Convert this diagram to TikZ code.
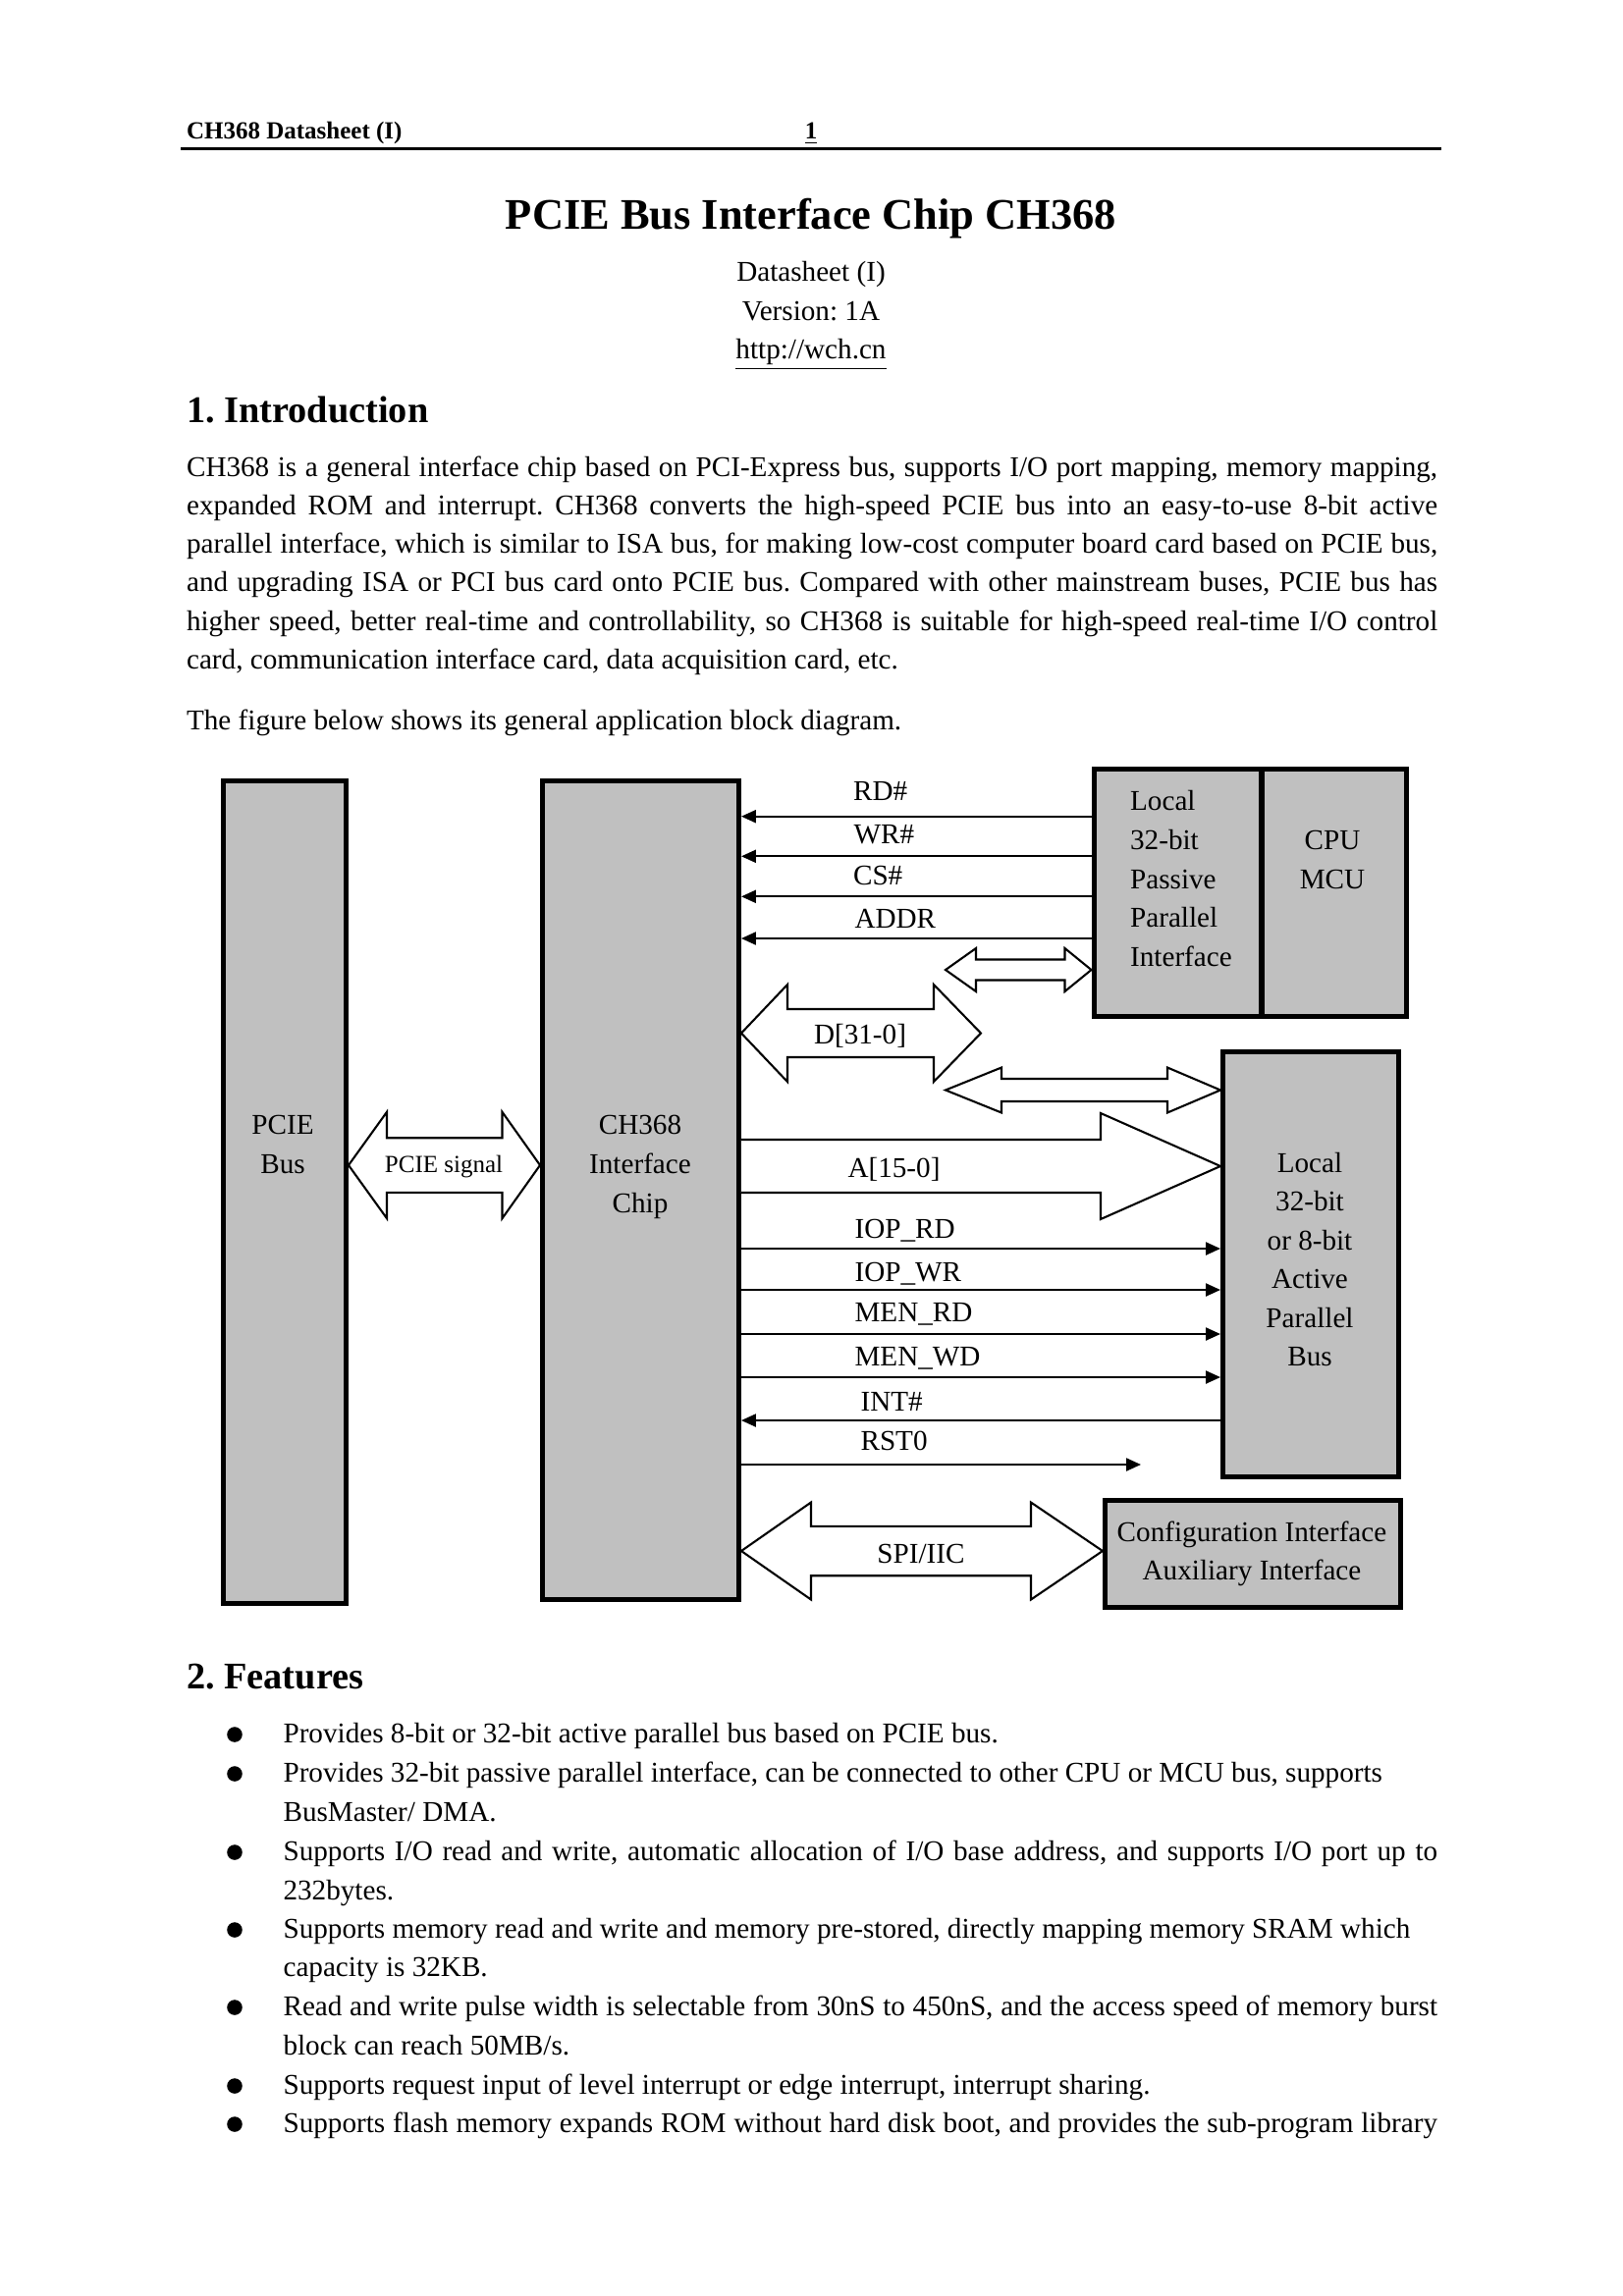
\documentclass[tikz,border=0pt]{standalone}
\usepackage{fontspec}
\setmainfont{Liberation Serif}
\usetikzlibrary{arrows.meta,calc}
\definecolor{boxgray}{RGB}{192,192,192}
\frenchspacing
% box from outer edges x1,y1,x2,y2 (pixel units)
\newcommand{\boxnode}[5]{\node[box, minimum width={(#4-#2-5.3)*0.36pt}, minimum height={(#5-#3-5.3)*0.36pt}] (#1) at ({(#2+#4)/2},{(#3+#5)/2}) {};}
% double block arrow: left tip, right tip, left head length, right head length, half shaft, half head
\newcommand{\dblarrow}[6]{\draw[blockarrow] #1 -- ++(#3,-#6) -- ++(0,#6-#5) -- ($#2+(-#4,-#5)$) -- ++(0,#5-#6) -- #2 -- ++(-#4,#6) -- ++(0,#5-#6) -- ($#1+(#3,#5)$) -- ++(0,#6-#5) -- cycle;}
\tikzset{
  box/.style={draw=black, line width=1.9pt, fill=boxgray, inner sep=0pt},
  lbl/.style={font=\fontsize{10.5}{12}\selectfont\frenchspacing, inner sep=0pt, anchor=base west},
  clbl/.style={lbl, anchor=base},
  body/.style={font=\fontsize{10.5}{12}\selectfont\frenchspacing, inner sep=0pt, anchor=base west},
  cbody/.style={body, anchor=base},
  hdr/.style={font=\fontsize{9}{11}\selectfont\bfseries, inner sep=0pt, anchor=base west},
  sect/.style={font=\fontsize{13.8}{16}\selectfont\bfseries, inner sep=0pt, anchor=base west},
  sig/.style={line width=0.75pt, -{Triangle[length=5.4pt,width=4.7pt]}},
  blockarrow/.style={draw=black, line width=0.75pt, fill=white, line join=miter},
  bul/.style={circle, fill=black, inner sep=0pt, minimum size=5.6pt},
}
\begin{document}
\begin{tikzpicture}[x=0.36pt,y=-0.36pt]
\useasboundingbox[fill=white] (0,0) rectangle (1653,2339);

% ---------- header ----------
\node[hdr] (hleft) at (189.5,141.7) {CH368 Datasheet (I)};
\node[hdr, anchor=base] (hpage) at (826,141.7) {\underline{1}};
\coordinate (ruleL) at (184,151.5);
\coordinate (ruleR) at (1468,151.5);
\draw[line width=1.1pt] (ruleL) -- (ruleR);

% ---------- title ----------
\node[font=\fontsize{16}{19}\selectfont\bfseries, inner sep=0pt, anchor=base] (title) at (826,233) {PCIE Bus Interface Chip CH368};
\node[cbody] (sub1) at (826,286.7) {Datasheet (I)};
\node[cbody] (sub2) at (826,326.7) {Version: 1A};
\node[cbody] (sub3) at (826,365) {\underline{http://wch.cn}};

% ---------- introduction ----------
\node[sect] (sec1) at (189.5,430) {1. Introduction};
\node[body] (i1) at (189.5,485) {\makebox[458.7pt][s]{CH368 is a general interface chip based on PCI-Express bus, supports I/O port mapping, memory mapping,}};
\node[body] (i2) at (189.5,524.3) {\makebox[458.7pt][s]{expanded ROM and interrupt. CH368 converts the high-speed PCIE bus into an easy-to-use 8-bit active}};
\node[body] (i3) at (189.5,563.6) {\makebox[458.7pt][s]{parallel interface, which is similar to ISA bus, for making low-cost computer board card based on PCIE bus,}};
\node[body] (i4) at (189.5,602.9) {\makebox[458.7pt][s]{and upgrading ISA or PCI bus card onto PCIE bus. Compared with other mainstream buses, PCIE bus has}};
\node[body] (i5) at (189.5,642.2) {\makebox[458.7pt][s]{higher speed, better real-time and controllability, so CH368 is suitable for high-speed real-time I/O control}};
\node[body] (i6) at (189.5,681.5) {card, communication interface card, data acquisition card, etc.};
\node[body] (i7) at (189.5,743) {The figure below shows its general application block diagram.};

% ---------- diagram boxes ----------
\boxnode{pcie}{224.5}{793}{355}{1636}
\boxnode{ch}{550}{793}{755}{1632}
\boxnode{pp}{1111.5}{781}{1287.65}{1038}
\boxnode{cpu}{1282.35}{781}{1435}{1038}
\boxnode{ab}{1243}{1069}{1427}{1507}
\boxnode{cfg}{1123}{1526}{1429}{1640}

% box texts
\node[clbl] (tp1) at (288,1155.5) {PCIE};
\node[clbl] (tp2) at (288,1195.5) {Bus};
\node[clbl] (tc1) at (652,1155.5) {CH368};
\node[clbl] (tc2) at (652,1195.5) {Interface};
\node[clbl] (tc3) at (652,1235) {Chip};
\node[lbl] (tq1) at (1150.6,825) {Local};
\node[lbl] (tq2) at (1150.6,865) {32-bit};
\node[lbl] (tq3) at (1150.6,905) {Passive};
\node[lbl] (tq4) at (1150.6,944.5) {Parallel};
\node[lbl] (tq5) at (1150.6,984) {Interface};
\node[clbl] (tu1) at (1357,865) {CPU};
\node[clbl] (tu2) at (1357,905) {MCU};
\node[clbl] (ta1) at (1334,1194) {Local};
\node[clbl] (ta2) at (1334,1233.5) {32-bit};
\node[clbl] (ta3) at (1334,1273) {or 8-bit};
\node[clbl] (ta4) at (1334,1312.5) {Active};
\node[clbl] (ta5) at (1334,1352) {Parallel};
\node[clbl] (ta6) at (1334,1391.5) {Bus};
\node[clbl] (tf1) at (1275,1570) {Configuration Interface};
\node[clbl] (tf2) at (1275,1609) {Auxiliary Interface};

% ---------- signals from passive interface ----------
\draw[sig] (pp.west |- 0,831.7) -- (ch.east |- 0,831.7);
\draw[sig] (pp.west |- 0,872.3) -- (ch.east |- 0,872.3);
\draw[sig] (pp.west |- 0,913.3) -- (ch.east |- 0,913.3);
\draw[sig] (pp.west |- 0,956) -- (ch.east |- 0,956);
\node[lbl] (lrd) at (868.5,815) {RD\#};
\node[lbl] (lwr) at (869,859) {WR\#};
\node[lbl] (lcs) at (868.5,901.7) {CS\#};
\node[lbl] (laddr) at (870,945) {ADDR};

% ---------- block arrows ----------
\coordinate (pfree) at (963,988);
\coordinate (dfree) at (999,1052.5);
\coordinate (afree) at (963,1110.5);
\dblarrow{(pcie.east |- 0,1187)}{(ch.west |- 0,1187)}{39}{38.5}{27.8}{54.2}
\node[clbl, font=\fontsize{9}{11}\selectfont] (lps) at (452,1194) {PCIE signal};
\dblarrow{(pfree)}{(pp.west |- pfree)}{31}{27}{10.5}{22}
\dblarrow{(ch.east |- dfree)}{(dfree)}{47}{48}{24.5}{49.5}
\node[lbl] (ld) at (828.5,1063) {D[31-0]};
\dblarrow{(afree)}{(ab.west |- afree)}{57}{54}{11.5}{23}
% A[15-0] single block arrow
\draw[blockarrow] (ch.east |- 0,1161) -- (1121,1161) -- (1121,1134) -- (ab.west |- 0,1188) -- (1121,1242) -- (1121,1215) -- (ch.east |- 0,1215);
\node[lbl] (la) at (863,1199) {A[15-0]};

% ---------- signals to active bus ----------
\draw[sig] (ch.east |- 0,1272) -- (ab.west |- 0,1272);
\draw[sig] (ch.east |- 0,1314) -- (ab.west |- 0,1314);
\draw[sig] (ch.east |- 0,1359) -- (ab.west |- 0,1359);
\draw[sig] (ch.east |- 0,1403) -- (ab.west |- 0,1403);
\draw[sig] (ab.west |- 0,1447) -- (ch.east |- 0,1447);
\coordinate (rstend) at (1162,1492);
\draw[sig] (ch.east |- rstend) -- (rstend);
\node[lbl] (liord) at (870,1261) {IOP\_RD};
\node[lbl] (liowr) at (870,1305) {IOP\_WR};
\node[lbl] (lmrd) at (870,1346) {MEN\_RD};
\node[lbl] (lmwd) at (870,1391) {MEN\_WD};
\node[lbl] (lint) at (876,1437) {INT\#};
\node[lbl] (lrst) at (876,1477) {RST0};

% ---------- SPI/IIC ----------
\dblarrow{(ch.east |- 0,1580)}{(cfg.west |- 0,1580)}{71}{73}{25.2}{49.5}
\node[clbl] (lspi) at (938,1592) {SPI/IIC};

% ---------- features ----------
\node[sect] (sec2) at (189.5,1720) {2. Features};
\node[bul] (b1) at (239,1767) {};
\node[body] (f1) at (288,1775) {Provides 8-bit or 32-bit active parallel bus based on PCIE bus.};
\node[bul] (b2) at (239,1807) {};
\node[body] (f2a) at (288,1815) {Provides 32-bit passive parallel interface, can be connected to other CPU or MCU bus, supports};
\node[body] (f2b) at (288,1855) {BusMaster/ DMA.};
\node[bul] (b3) at (239,1887) {};
\node[body] (f3a) at (288,1895) {\makebox[423.2pt][s]{Supports I/O read and write, automatic allocation of I/O base address, and supports I/O port up to}};
\node[body] (f3b) at (288,1935) {232bytes.};
\node[bul] (b4) at (239,1966) {};
\node[body] (f4a) at (288,1974) {Supports memory read and write and memory pre-stored, directly mapping memory SRAM which};
\node[body] (f4b) at (288,2013.5) {capacity is 32KB.};
\node[bul] (b5) at (239,2045) {};
\node[body] (f5a) at (288,2053) {\makebox[423.2pt][s]{Read and write pulse width is selectable from 30nS to 450nS, and the access speed of memory burst}};
\node[body] (f5b) at (288,2093) {block can reach 50MB/s.};
\node[bul] (b6) at (239,2125) {};
\node[body] (f6) at (288,2133) {Supports request input of level interrupt or edge interrupt, interrupt sharing.};
\node[bul] (b7) at (239,2164) {};
\node[body] (f7) at (288,2172) {\makebox[423.2pt][s]{Supports flash memory expands ROM without hard disk boot, and provides the sub-program library}};
\end{tikzpicture}
\end{document}
